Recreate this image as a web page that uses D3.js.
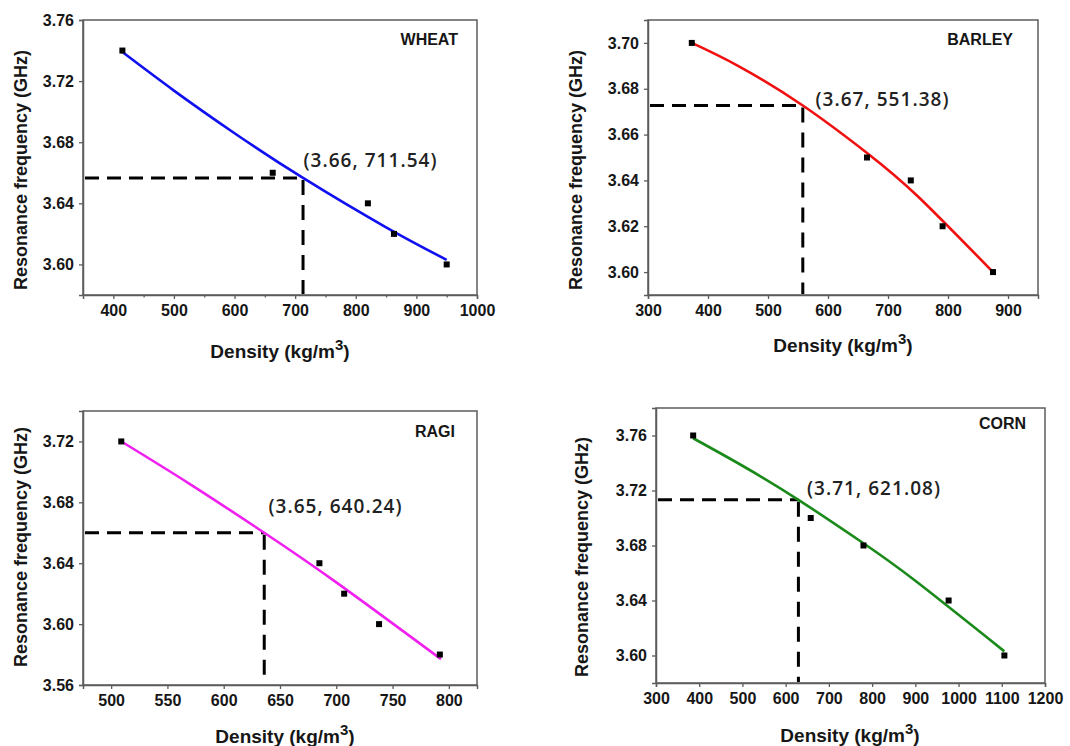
<!DOCTYPE html>
<html>
<head>
<meta charset="utf-8">
<script src="https://cdn.jsdelivr.net/npm/d3@7"></script>
<style>
  html, body { margin: 0; padding: 0; background: #ffffff; }
  svg { display: block; }
</style>
</head>
<body>
<script>
// ---------------- DATA ----------------
const panelNames = ["WHEAT", "BARLEY", "RAGI", "CORN"];

const wheatDensity = [415, 663, 820, 863, 950];
const wheatFreq    = [3.74, 3.66, 3.64, 3.62, 3.60];
const wheatFitDensity = [415, 500, 600, 713, 850, 950];
const wheatFitFreq    = [3.739, 3.7138, 3.6859, 3.6566, 3.6243, 3.603];
const wheatCross = [713, 3.6566];
const wheatCrossLabel = "(3.66, 711.54)";
const wheatXTicks = [400, 500, 600, 700, 800, 900, 1000];
const wheatYTicks = [3.60, 3.64, 3.68, 3.72, 3.76];
const wheatXDomain = [350, 1000];
const wheatYDomain = [3.58, 3.76];

const barleyDensity = [373, 665, 738, 791, 875];
const barleyFreq    = [3.70, 3.65, 3.64, 3.62, 3.60];
const barleyFitDensity = [373, 450, 558, 665, 750, 875];
const barleyFitFreq    = [3.700, 3.690, 3.6727, 3.652, 3.633, 3.600];
const barleyCross = [558, 3.6727];
const barleyCrossLabel = "(3.67, 551.38)";
const barleyXTicks = [300, 400, 500, 600, 700, 800, 900];
const barleyYTicks = [3.60, 3.62, 3.64, 3.66, 3.68, 3.70];
const barleyXDomain = [300, 950];
const barleyYDomain = [3.59, 3.71];

const ragiDensity = [509, 685, 707, 738, 792];
const ragiFreq    = [3.72, 3.64, 3.62, 3.60, 3.58];
const ragiFitDensity = [509, 570, 636, 700, 793];
const ragiFitFreq    = [3.720, 3.692, 3.660, 3.6274, 3.577];
const ragiCross = [636, 3.660];
const ragiCrossLabel = "(3.65, 640.24)";
const ragiXTicks = [500, 550, 600, 650, 700, 750, 800];
const ragiYTicks = [3.56, 3.60, 3.64, 3.68, 3.72];
const ragiXDomain = [475, 825];
const ragiYDomain = [3.56, 3.74];

const cornDensity = [386, 658, 780, 977, 1106];
const cornFreq    = [3.76, 3.70, 3.68, 3.64, 3.60];
const cornFitDensity = [386, 500, 629.5, 780, 900, 1106];
const cornFitFreq    = [3.758, 3.738, 3.7132, 3.6816, 3.6543, 3.603];
const cornCross = [629.5, 3.7132];
const cornCrossLabel = "(3.71, 621.08)";
const cornXTicks = [300, 400, 500, 600, 700, 800, 900, 1000, 1100, 1200];
const cornYTicks = [3.60, 3.64, 3.68, 3.72, 3.76];
const cornXDomain = [300, 1200];
const cornYDomain = [3.58, 3.78];

const xTitle = "Density (kg/m";
const xTitleSup = "3";
const yTitle = "Resonance frequency (GHz)";

// ---------------- LAYOUT / STYLE ----------------
const W = 1070, H = 746;
const panels = [
  { name: panelNames[0], color: "#1010f0",
    dens: wheatDensity, freq: wheatFreq, fitX: wheatFitDensity, fitY: wheatFitFreq,
    cross: wheatCross, crossLabel: wheatCrossLabel,
    xTicks: wheatXTicks, yTicks: wheatYTicks, xDomain: wheatXDomain, yDomain: wheatYDomain,
    minor: true,
    box: { l: 83, r: 477, t: 20, b: 295 },
    nameAt: [458, 45], annAt: [370, 167], yTitleAt: [20.5, 170], xTitleAt: [280, 358] },
  { name: panelNames[1], color: "#f01010",
    dens: barleyDensity, freq: barleyFreq, fitX: barleyFitDensity, fitY: barleyFitFreq,
    cross: barleyCross, crossLabel: barleyCrossLabel,
    xTicks: barleyXTicks, yTicks: barleyYTicks, xDomain: barleyXDomain, yDomain: barleyYDomain,
    minor: false,
    box: { l: 648, r: 1038, t: 20, b: 295 },
    nameAt: [1013, 45], annAt: [882, 106], yTitleAt: [576, 170], xTitleAt: [843, 352] },
  { name: panelNames[2], color: "#f020f0",
    dens: ragiDensity, freq: ragiFreq, fitX: ragiFitDensity, fitY: ragiFitFreq,
    cross: ragiCross, crossLabel: ragiCrossLabel,
    xTicks: ragiXTicks, yTicks: ragiYTicks, xDomain: ragiXDomain, yDomain: ragiYDomain,
    minor: false,
    box: { l: 83, r: 477, t: 411, b: 685 },
    nameAt: [455, 437], annAt: [335, 513], yTitleAt: [20.5, 547], xTitleAt: [285, 743] },
  { name: panelNames[3], color: "#1a8a1a",
    dens: cornDensity, freq: cornFreq, fitX: cornFitDensity, fitY: cornFitFreq,
    cross: cornCross, crossLabel: cornCrossLabel,
    xTicks: cornXTicks, yTicks: cornYTicks, xDomain: cornXDomain, yDomain: cornYDomain,
    minor: false,
    box: { l: 656, r: 1045, t: 408, b: 683 },
    nameAt: [1026, 429], annAt: [873.5, 495], yTitleAt: [582, 557], xTitleAt: [850, 742] }
];

const AX = "#5c5c5c";
const TXT = "#161616";
const ARIAL = "'Liberation Sans', Arial, sans-serif";

const svg = d3.select("body").append("svg")
  .attr("width", W).attr("height", H)
  .attr("viewBox", `0 0 ${W} ${H}`);

panels.forEach(p => {
  const b = p.box;
  const x = d3.scaleLinear().domain(p.xDomain).range([b.l, b.r]);
  const y = d3.scaleLinear().domain(p.yDomain).range([b.b, b.t]);
  const g = svg.append("g");

  g.append("rect")
    .attr("x", b.l).attr("y", b.t)
    .attr("width", b.r - b.l).attr("height", b.b - b.t)
    .attr("fill", "none").attr("stroke", AX).attr("stroke-width", 1.5);

  if (p.minor) {
    const step = p.xTicks[1] - p.xTicks[0];
    const minors = p.xTicks.map(v => v - step / 2).filter(v => v > p.xDomain[0] && v < p.xDomain[1]);
    g.append("g").attr("transform", `translate(0,${b.b})`)
      .call(d3.axisBottom(x).tickValues(minors).tickSize(2.5).tickFormat(""))
      .call(s => s.select(".domain").remove())
      .call(s => s.selectAll("line").attr("stroke", AX).attr("stroke-width", 1.3));
  }

  const gx = g.append("g").attr("transform", `translate(0,${b.b})`)
    .call(d3.axisBottom(x).tickValues(p.xTicks).tickSize(4).tickPadding(6).tickFormat(d3.format("d")));
  gx.select(".domain").attr("stroke", AX).attr("stroke-width", 1.5);
  gx.selectAll(".tick line").attr("stroke", AX).attr("stroke-width", 1.3);
  gx.selectAll(".tick text").attr("fill", TXT)
    .style("font-family", ARIAL).style("font-weight", "700").style("font-size", "16px");

  const gy = g.append("g").attr("transform", `translate(${b.l},0)`)
    .call(d3.axisLeft(y).tickValues(p.yTicks).tickSize(4).tickPadding(5).tickFormat(d3.format(".2f")));
  gy.select(".domain").attr("stroke", AX).attr("stroke-width", 1.5);
  gy.selectAll(".tick line").attr("stroke", AX).attr("stroke-width", 1.3);
  gy.selectAll(".tick text").attr("fill", TXT)
    .style("font-family", ARIAL).style("font-weight", "700").style("font-size", "16px");

  const cx = x(p.cross[0]), cy = y(p.cross[1]);
  g.append("line")
    .attr("x1", b.l + 2).attr("x2", cx).attr("y1", cy).attr("y2", cy)
    .attr("stroke", "#000").attr("stroke-width", 3).attr("stroke-dasharray", "14,8");
  g.append("line")
    .attr("x1", cx).attr("x2", cx).attr("y1", cy + 2).attr("y2", b.b - 1)
    .attr("stroke", "#000").attr("stroke-width", 3).attr("stroke-dasharray", "15,10");

  const fit = p.fitX.map((v, i) => [v, p.fitY[i]]);
  g.append("path")
    .datum(fit)
    .attr("fill", "none").attr("stroke", p.color).attr("stroke-width", 2.6)
    .attr("d", d3.line().x(d => x(d[0])).y(d => y(d[1])).curve(d3.curveNatural));

  const pts = p.dens.map((v, i) => [v, p.freq[i]]);
  g.selectAll("rect.pt").data(pts).enter().append("rect")
    .attr("class", "pt")
    .attr("x", d => x(d[0]) - 3).attr("y", d => y(d[1]) - 3)
    .attr("width", 6).attr("height", 6).attr("fill", "#000");

  g.append("text")
    .attr("x", p.nameAt[0]).attr("y", p.nameAt[1])
    .attr("text-anchor", "end").attr("fill", TXT)
    .style("font-family", ARIAL).style("font-weight", "700").style("font-size", "16px")
    .text(p.name);

  g.append("text")
    .attr("x", p.annAt[0]).attr("y", p.annAt[1])
    .attr("text-anchor", "middle").attr("fill", "#222")
    .attr("textLength", 133).attr("lengthAdjust", "spacing")
    .style("font-family", "'Open Sans', sans-serif").style("font-weight", "600").style("font-size", "19px")
    .text(p.crossLabel);

  g.append("text")
    .attr("transform", `translate(${p.yTitleAt[0]},${p.yTitleAt[1]}) rotate(-90)`)
    .attr("text-anchor", "middle").attr("dy", "0.36em").attr("fill", TXT)
    .style("font-family", ARIAL).style("font-weight", "700").style("font-size", "18px")
    .text(yTitle);

  const xt = g.append("text")
    .attr("x", p.xTitleAt[0]).attr("y", p.xTitleAt[1])
    .attr("text-anchor", "middle").attr("fill", TXT)
    .style("font-family", ARIAL).style("font-weight", "700").style("font-size", "19px");
  xt.append("tspan").text(xTitle);
  xt.append("tspan").attr("dy", -8).style("font-size", "15px").text(xTitleSup);
  xt.append("tspan").attr("dy", 8).text(")");
});
</script>
</body>
</html>
